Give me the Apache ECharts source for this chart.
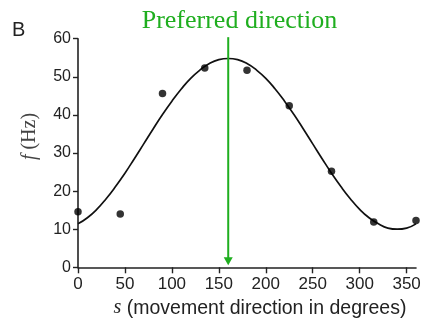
<!DOCTYPE html>
<html>
<head>
<meta charset="utf-8">
<script src="https://cdn.jsdelivr.net/npm/echarts@6/dist/echarts.min.js"></script>
<style>html,body{margin:0;padding:0;background:#fff;}#c{width:421px;height:323px;}</style>
</head>
<body>
<div id="c"></div>
<script>
// Measured firing rates
const angles = [0, 45, 90, 135, 180, 225, 270, 315, 360];
const rates = [14.6, 14.0, 45.6, 52.3, 51.7, 42.4, 25.2, 11.9, 12.3];
// Fitted tuning curve
const fitAngles = [0,10,20,30,40,50,60,70,80,90,100,110,120,130,140,150,160,170,180,190,200,210,220,230,240,250,260,270,280,290,300,310,320,330,340,350,360];
const fitRates = [11.4,13.0,15.2,18.0,21.2,24.7,28.5,32.4,36.3,40.1,43.6,46.8,49.6,51.8,53.5,54.5,54.8,54.5,53.5,51.8,49.6,46.8,43.6,40.1,36.3,32.4,28.5,24.7,21.2,18.0,15.2,13.0,11.4,10.3,10.0,10.3,11.4];
const xTicks = [0, 50, 100, 150, 200, 250, 300, 350];
const preferred = 160;
const arrowTop = 60.4;
const arrowEnd = 1.6;
const title = 'Preferred direction';
const panel = 'B';

const GREEN = '#1fae1f';
const INK = '#222';

const chart = echarts.init(document.getElementById('c'), null, {renderer: 'canvas'});
chart.setOption({
  animation: false,
  grid: {left: 78, right: 5, top: 38.7, bottom: 55.7, containLabel: false, outerBoundsMode: 'none'},
  graphic: [
    {type: 'text', left: 12, top: 20, style: {text: panel, font: '20px "Liberation Sans", Arial, sans-serif', fill: INK}},
    {type: 'text', x: 239.5, y: 8, style: {text: title, font: '26px "Liberation Serif", "Times New Roman", serif', fill: GREEN, textAlign: 'center', textVerticalAlign: 'top'}}
  ],
  xAxis: {
    type: 'value', min: 0, max: 360, interval: 50,
    splitLine: {show: false},
    axisLine: {lineStyle: {color: INK, width: 1.6}},
    axisTick: {length: 6, lineStyle: {color: INK, width: 1.4}, customValues: xTicks},
    axisLabel: {customValues: xTicks, margin: 9, color: INK, fontSize: 17, fontFamily: '"Liberation Sans", Arial, sans-serif'},
    name: '{i|s} (movement direction in degrees)',
    nameLocation: 'middle', nameGap: 30,
    nameTextStyle: {
      color: INK, fontSize: 19.5, fontFamily: '"Liberation Sans", Arial, sans-serif', padding: [0, 0, 0, 26],
      rich: {i: {fontFamily: '"Liberation Serif", serif', fontStyle: 'italic', fontSize: 20, color: INK}}
    }
  },
  yAxis: {
    type: 'value', min: 0, max: 60, interval: 10,
    splitLine: {show: false},
    axisLine: {show: true, lineStyle: {color: INK, width: 1.6}},
    axisTick: {show: true, length: 5, lineStyle: {color: INK, width: 1.4}},
    axisLabel: {margin: 7, color: INK, fontSize: 16, fontFamily: '"Liberation Sans", Arial, sans-serif'},
    name: '{i|f} (Hz)',
    nameLocation: 'middle', nameGap: 38, nameRotate: 90,
    nameTextStyle: {
      color: '#444', fontSize: 20, fontFamily: '"Liberation Serif", serif', padding: [0, 0, 0, 33],
      rich: {i: {fontFamily: '"Liberation Serif", serif', fontStyle: 'italic', fontSize: 20, color: '#444'}}
    }
  },
  series: [
    {
      type: 'line', data: fitAngles.map((a, i) => [a, fitRates[i]]),
      smooth: true, showSymbol: false, lineStyle: {color: '#111', width: 1.7}, z: 2
    },
    {
      type: 'line', clip: false, z: 4,
      data: [[preferred, arrowTop], [preferred, arrowEnd]],
      showSymbol: true,
      symbol: (v, p) => p.dataIndex === 1 ? 'triangle' : 'none',
      symbolSize: [9, 8], symbolRotate: 180,
      itemStyle: {color: GREEN},
      lineStyle: {color: GREEN, width: 2},
      silent: true
    },
    {
      type: 'scatter', data: angles.map((a, i) => [a, rates[i]]),
      symbolSize: 7.5, itemStyle: {color: '#000'}, z: 3
    }
  ]
});
</script>
</body>
</html>
